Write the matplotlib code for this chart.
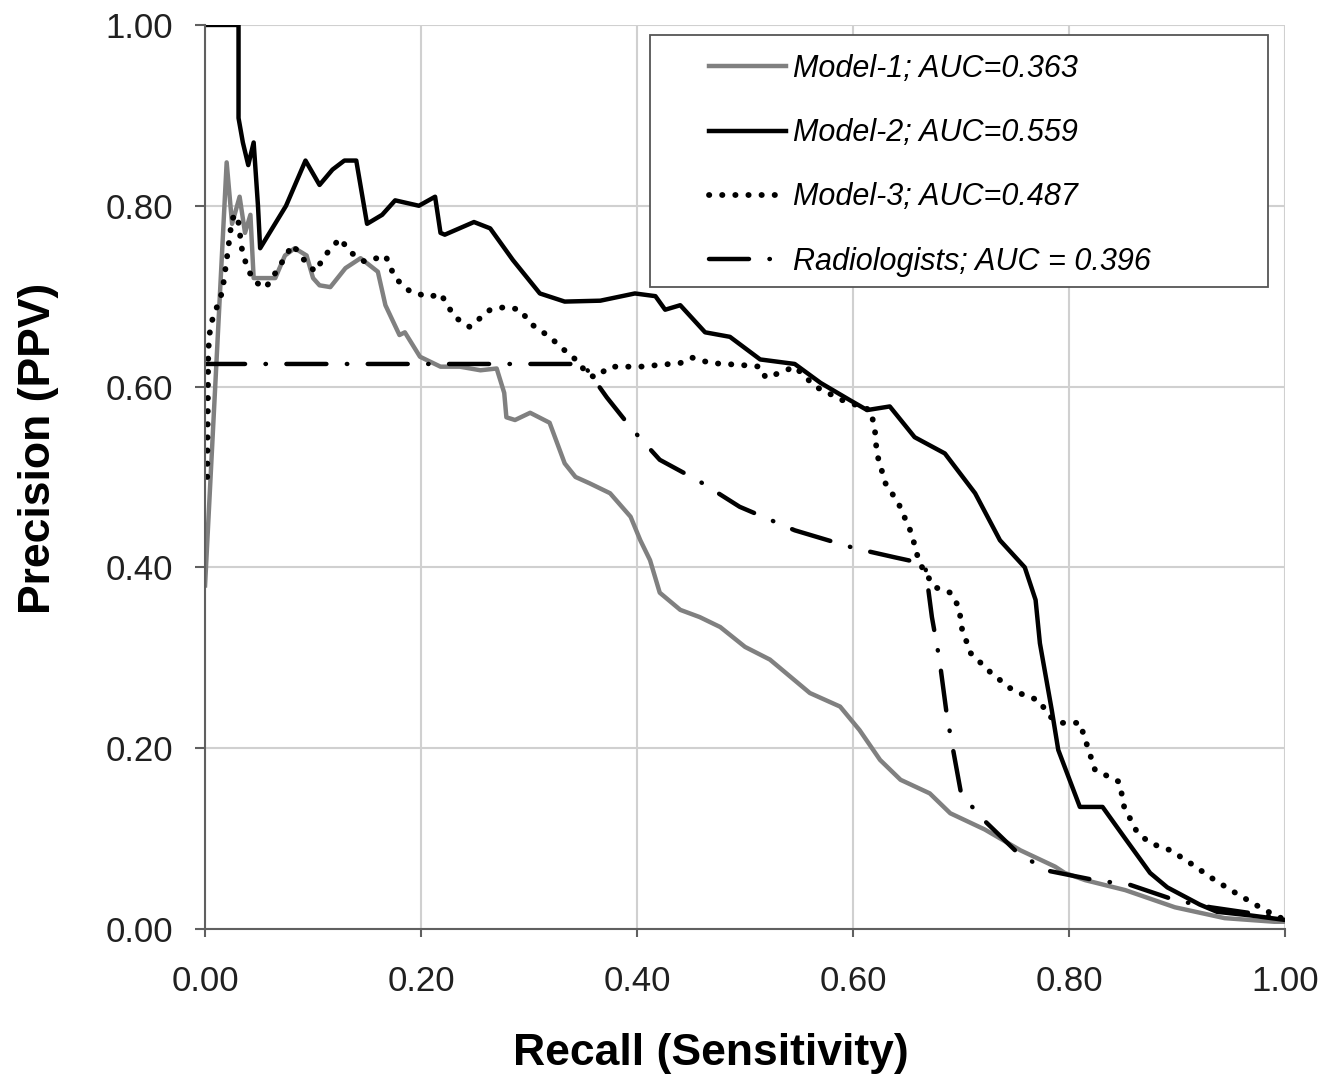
import numpy as np
import matplotlib.pyplot as plt
from matplotlib.patches import Rectangle

plt.rcParams['font.family'] = ['Liberation Sans', 'DejaVu Sans']

# recall / precision
m1_r = [0.0, 0.020, 0.025, 0.032, 0.037, 0.042, 0.045, 0.053, 0.065, 0.074, 0.083, 0.094, 0.100, 0.106, 0.116,
        0.130, 0.144, 0.160, 0.167, 0.180, 0.185, 0.199, 0.218, 0.236, 0.255, 0.270, 0.277, 0.279, 0.287, 0.301,
        0.319, 0.333, 0.343, 0.356, 0.375, 0.394, 0.403, 0.412, 0.421, 0.440, 0.458, 0.477, 0.500, 0.523, 0.542,
        0.560, 0.588, 0.606, 0.625, 0.644, 0.671, 0.690, 0.722, 0.755, 0.787, 0.796, 0.815, 0.852, 0.898, 0.944,
        0.990, 1.0]
m1_p = [0.38, 0.848, 0.78, 0.81, 0.77, 0.79, 0.72, 0.72, 0.72, 0.745, 0.753, 0.745, 0.72, 0.712, 0.71, 0.731,
        0.742, 0.727, 0.69, 0.657, 0.66, 0.633, 0.622, 0.622, 0.618, 0.62, 0.593, 0.566, 0.563, 0.571, 0.56,
        0.515, 0.50, 0.493, 0.482, 0.456, 0.43, 0.408, 0.372, 0.353, 0.345, 0.334, 0.312, 0.298, 0.279, 0.261,
        0.246, 0.22, 0.187, 0.165, 0.15, 0.128, 0.11, 0.087, 0.069, 0.062, 0.054, 0.043, 0.024, 0.012, 0.008,
        0.008]

m2_r = [0.0, 0.031, 0.031, 0.035, 0.040, 0.045, 0.049, 0.051, 0.075, 0.093, 0.106, 0.118, 0.129, 0.140,
        0.150, 0.164, 0.176, 0.198, 0.213, 0.218, 0.222, 0.249, 0.264, 0.285, 0.310, 0.333, 0.366, 0.398, 0.417,
        0.426, 0.440, 0.463, 0.486, 0.514, 0.546, 0.570, 0.597, 0.613, 0.634, 0.657, 0.685, 0.713, 0.736, 0.759,
        0.769, 0.773, 0.784, 0.790, 0.810, 0.831, 0.852, 0.875, 0.891, 0.921, 0.937, 0.968, 1.0]
m2_p = [1.0, 1.0, 0.897, 0.87, 0.845, 0.87, 0.80, 0.753, 0.80, 0.85, 0.823, 0.84, 0.85, 0.85, 0.78,
        0.79, 0.806, 0.80, 0.81, 0.77, 0.768, 0.782, 0.775, 0.74, 0.703, 0.694, 0.695, 0.703, 0.70, 0.685, 0.69,
        0.66, 0.655, 0.63, 0.625, 0.604, 0.585, 0.574, 0.578, 0.544, 0.526, 0.482, 0.43, 0.40, 0.364, 0.316,
        0.242, 0.198, 0.135, 0.135, 0.10, 0.062, 0.046, 0.027, 0.019, 0.015, 0.01]

m3_r = [0.002, 0.003, 0.005, 0.016, 0.021, 0.025, 0.030, 0.034, 0.039, 0.046, 0.056, 0.068, 0.081, 0.093,
        0.102, 0.111, 0.125, 0.134, 0.148, 0.167, 0.176, 0.190, 0.208, 0.218, 0.231, 0.245, 0.264, 0.278,
        0.292, 0.301, 0.319, 0.333, 0.347, 0.352, 0.361, 0.375, 0.403, 0.440, 0.451, 0.468, 0.495, 0.514,
        0.519, 0.532, 0.546, 0.565, 0.590, 0.616, 0.620, 0.622, 0.630, 0.642, 0.654, 0.660, 0.665, 0.676,
        0.690, 0.698, 0.701, 0.709, 0.728, 0.748, 0.762, 0.772, 0.782, 0.794, 0.810, 0.824, 0.846, 0.848,
        0.851, 0.863, 0.875, 0.894, 0.912, 0.935, 0.954, 0.981, 1.0]
m3_p = [0.50, 0.64, 0.668, 0.705, 0.749, 0.786, 0.79, 0.753, 0.731, 0.716, 0.709, 0.731, 0.757, 0.738, 0.727,
        0.745, 0.764, 0.749, 0.738, 0.745, 0.72, 0.705, 0.699, 0.703, 0.677, 0.666, 0.685, 0.688, 0.685, 0.67,
        0.655, 0.64, 0.626, 0.616, 0.61, 0.622, 0.622, 0.626, 0.632, 0.626, 0.624, 0.622, 0.61, 0.615, 0.622,
        0.60, 0.585, 0.574, 0.555, 0.526, 0.493, 0.471, 0.438, 0.411, 0.397, 0.378, 0.372, 0.356, 0.331, 0.305,
        0.283, 0.264, 0.257, 0.253, 0.235, 0.228, 0.228, 0.176, 0.163, 0.154, 0.135, 0.107, 0.095, 0.087,
        0.073, 0.054, 0.04, 0.021, 0.01]

rad_r = [0.0, 0.350, 0.372, 0.396, 0.421, 0.458, 0.495, 0.546, 0.602, 0.639, 0.662, 0.667, 0.673, 0.680,
         0.687, 0.700, 0.718, 0.750, 0.778, 0.824, 0.856, 0.898, 0.931, 1.0]
rad_p = [0.625, 0.625, 0.588, 0.552, 0.519, 0.495, 0.467, 0.441, 0.421, 0.411, 0.405, 0.40, 0.345, 0.298,
         0.235, 0.15, 0.124, 0.087, 0.065, 0.054, 0.049, 0.032, 0.024, 0.012]

labels = ['Model-1; AUC=0.363', 'Model-2; AUC=0.559', 'Model-3; AUC=0.487', 'Radiologists; AUC = 0.396']
ticks = [0.0, 0.2, 0.4, 0.6, 0.8, 1.0]

fig = plt.figure(figsize=(13.35, 10.85), dpi=100)
ax = fig.add_axes([0.1536, 0.1438, 0.809, 0.8332])

ax.plot(m1_r, m1_p, color='#808080', lw=3.2, label=labels[0])
ax.plot(m2_r, m2_p, color='black', lw=3.2, label=labels[1])
ax.plot(m3_r, m3_p, color='black', lw=4.2, linestyle=(0, (0.05, 2.2)),
        dash_capstyle='round', label=labels[2])
ax.plot(rad_r, rad_p, color='black', lw=3.2, linestyle=(0, (9, 4.6, 0.1, 4.6)),
        dash_capstyle='round', label=labels[3])

ax.set_xlim(0, 1)
ax.set_ylim(0, 1)
ax.set_xticks(ticks)
ax.set_yticks(ticks)
ax.set_xticklabels(['%.2f' % t for t in ticks])
ax.set_yticklabels(['%.2f' % t for t in ticks])
ax.grid(True, color='#d0d0d0', lw=1.5)
ax.set_axisbelow(True)
for s in ['top', 'right']:
    ax.spines[s].set_visible(False)
for s in ['left', 'bottom']:
    ax.spines[s].set_color('#606060')
    ax.spines[s].set_linewidth(1.5)
ax.tick_params(direction='out', length=7, width=1.5, color='#606060', labelsize=25, colors='#202020')
ax.tick_params(axis='y', pad=16)
ax.tick_params(axis='x', length=6, pad=20)
ax.tick_params(axis='both', color='#606060')

ax.set_xlabel('Recall (Sensitivity)', fontsize=32, fontweight='bold')
ax.set_ylabel('Precision (PPV)', fontsize=32, fontweight='bold')
ax.xaxis.set_label_coords(0.468, -0.115)
ax.yaxis.set_label_coords(-0.135, 0.532)

# legend box drawn separately so its left margin matches
ax.add_patch(Rectangle((0.412, 0.710), 0.572, 0.279, transform=ax.transAxes, facecolor='white',
                       edgecolor='#555555', lw=1.3, clip_on=False, zorder=5))
leg = ax.legend(loc='upper left', bbox_to_anchor=(0.458, 0.978), prop={'size': 22, 'style': 'italic'},
                frameon=False, handlelength=2.52, handletextpad=0.23,
                labelspacing=1.12, borderpad=0.3, borderaxespad=0)
leg.set_zorder(6)

fig.savefig('out.png', dpi=100)
